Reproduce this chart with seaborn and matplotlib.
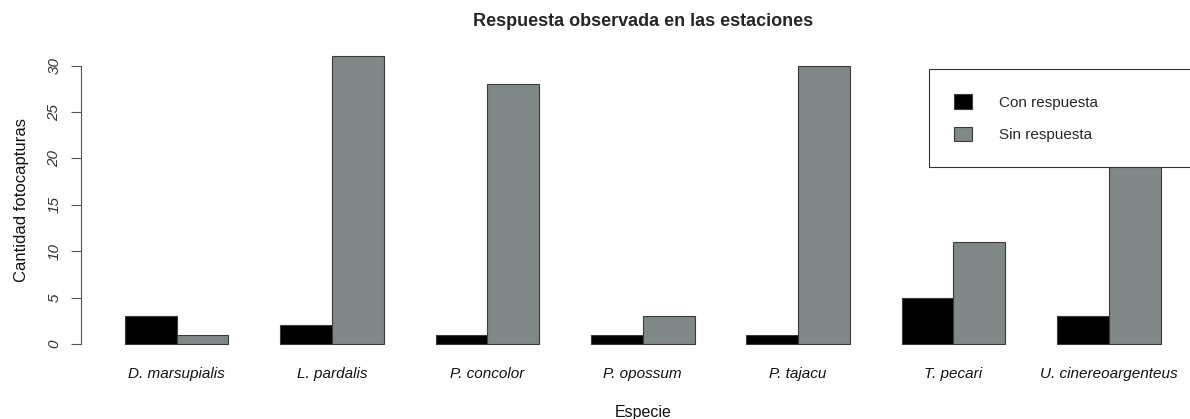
import pandas as pd
import matplotlib.pyplot as plt
import seaborn as sns

especies = ["D. marsupialis", "L. pardalis", "P. concolor", "P. opossum",
            "P. tajacu", "T. pecari", "U. cinereoargenteus"]
con_respuesta = [3, 2, 1, 1, 1, 5, 3]
sin_respuesta = [1, 31, 28, 3, 30, 11, 25]  # el ultimo queda tapado por la leyenda
grupos = ["Con respuesta", "Sin respuesta"]
colores = ["black", "#7f8787"]

tabla = pd.DataFrame({
    "Especie": especies * 2,
    "Respuesta": [grupos[0]] * len(especies) + [grupos[1]] * len(especies),
    "Cantidad": con_respuesta + sin_respuesta,
})

sns.set_style("white")
plt.rcParams["font.family"] = ["Liberation Sans", "DejaVu Sans"]

fig = plt.figure(figsize=(11.9, 4.19), dpi=100)
ax = fig.add_axes([0.0684, 0.1516, 0.9434, 0.7413])

sns.barplot(data=tabla, x="Especie", y="Cantidad", hue="Respuesta",
            hue_order=grupos, palette=colores, width=2/3, saturation=1,
            edgecolor="#3a3a3a", linewidth=0.8, errorbar=None, ax=ax)

ax.set_xlim(-0.6133, 6.6133)
ax.set_ylim(-1.24, 32.24)

for lado in ["top", "right", "bottom"]:
    ax.spines[lado].set_visible(False)
ax.spines["left"].set_bounds(0, 30)
ax.spines["left"].set_color("#555555")
ax.spines["left"].set_linewidth(0.8)

ax.set_yticks(range(0, 31, 5))
ax.set_yticklabels([str(v) for v in range(0, 31, 5)], rotation=90, va="center",
                   fontstyle="italic", fontsize=11, color="#333333")
ax.tick_params(axis="y", left=True, length=7, width=0.8, color="#555555", pad=7.5)
ax.tick_params(axis="x", bottom=False, length=0, pad=8.5)
for t in ax.get_xticklabels():
    t.set_fontstyle("italic")
    t.set_fontsize(11)
    t.set_color("#111111")

ax.set_xlabel("Especie", fontsize=11.5, labelpad=17, color="#111111")
ax.set_ylabel("Cantidad fotocapturas", fontsize=12, labelpad=13.5, color="#111111")
ax.set_title("Respuesta observada en las estaciones", fontsize=13,
             fontweight="bold", pad=13.5)

leg = ax.legend(loc="upper left", bbox_to_anchor=(0.755, 0, 0.245, 0.9224),
                mode="expand", frameon=True, fancybox=False, fontsize=11,
                borderpad=1.66, labelspacing=1.09, handlelength=1.18,
                handleheight=1.1, handletextpad=1.76, borderaxespad=0)
leg.get_frame().set_edgecolor("#333333")
leg.get_frame().set_linewidth(0.8)
leg.get_frame().set_facecolor("white")
leg.get_frame().set_alpha(1)

fig.savefig("out.png", dpi=100)
